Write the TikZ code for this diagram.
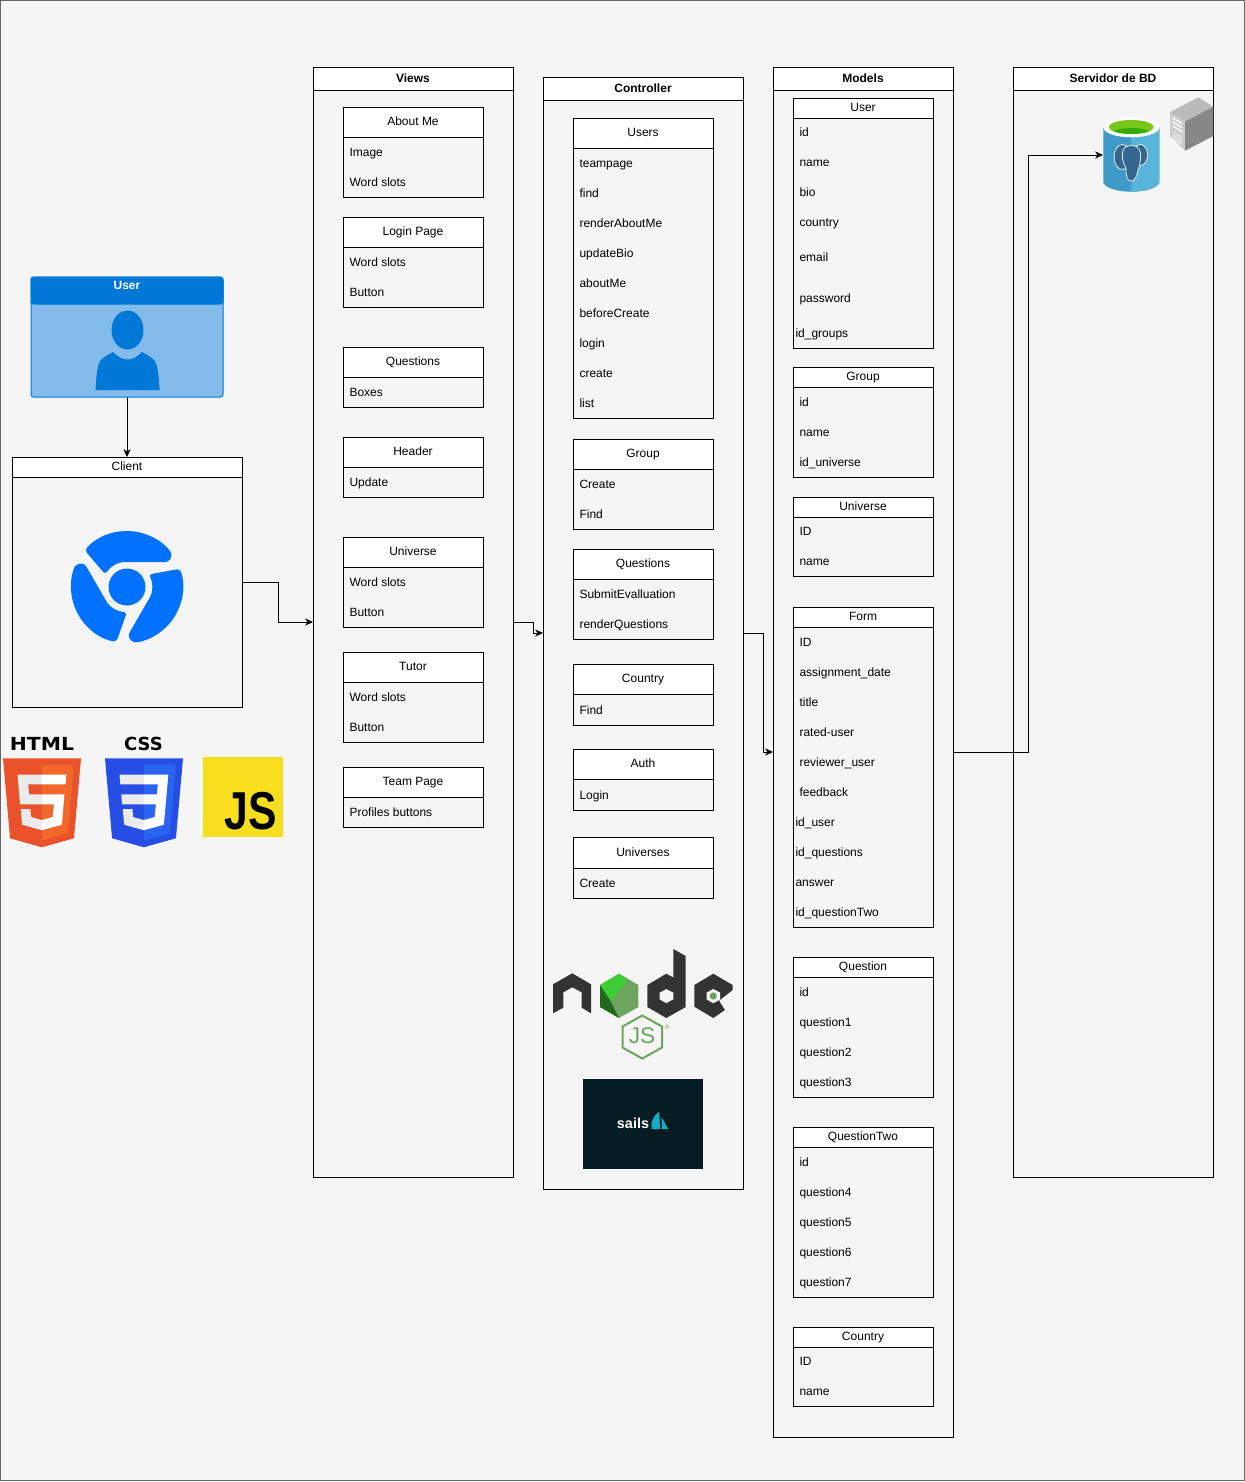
\documentclass[tikz,border=0pt]{standalone}
\usepackage{fontspec}
\setmainfont{Liberation Sans}
\usetikzlibrary{positioning,arrows.meta,calc}

\definecolor{sheet}{HTML}{F5F5F5}
\definecolor{msblue}{HTML}{0078D7}
\definecolor{msblue2}{HTML}{83BBEA}
\definecolor{chromeblue}{HTML}{0072FF}
\definecolor{htmldark}{HTML}{E9522A}
\definecolor{htmllight}{HTML}{F2672A}
\definecolor{cssdark}{HTML}{264DE4}
\definecolor{csslight}{HTML}{2965F1}
\definecolor{logogray}{HTML}{EBEBEB}
\definecolor{jsyellow}{HTML}{F7DF1E}
\definecolor{nodedark}{HTML}{333333}
\definecolor{nodegreen}{HTML}{6DA55F}
\definecolor{sailsdark}{HTML}{041C22}
\definecolor{sailsteal}{HTML}{14ACC2}
\definecolor{dbleft}{HTML}{3E9AC6}
\definecolor{dbright}{HTML}{59B4D9}
\definecolor{elephant}{HTML}{336791}

\begin{document}
\begin{tikzpicture}[
    x=0.75pt,
    y=-0.75pt,
    font=\fontsize{9}{11}\selectfont,
    line width=0.75pt,
    wd/.style={minimum width=#1*0.75pt},
    ht/.style={minimum height=#1*0.75pt},
    frame/.style={draw, anchor=north west, inner sep=0pt, outer sep=0pt},
    lane/.style={frame},
    lanehead/.style={frame, fill=white, font=\fontsize{9}{11}\selectfont\bfseries, text height=7.4pt, text depth=1.6pt},
    fieldbox/.style={frame, wd=140},
    boxhead/.style={frame, fill=white, wd=140, text height=7.4pt, text depth=1.6pt},
    field/.style={anchor=west, inner sep=0pt, text height=8pt, text depth=1.6pt},
    arrow/.style={-{Stealth[length=6pt,width=5.5pt]}}
]

% ============================================================
% FONDO
% ============================================================
\useasboundingbox (0,0) rectangle (1245,1482);
\fill[white] (0,0) rectangle (1245,1482);
\draw[draw=black!60, fill=sheet] (0.5,0.5) rectangle (1244.5,1480.5);

% ============================================================
% CLIENTE
% ============================================================
\node[frame, draw=msblue, fill=msblue2, rounded corners=2pt, wd=192, ht=120] (user) at (31,277) {};
\node[frame, draw=msblue, fill=msblue, rounded corners=2pt, wd=192, ht=27, text=white,
      font=\fontsize{9}{11}\selectfont\bfseries, text height=9pt, text depth=11pt] (userhead) at (31,277) {User};
\fill[msblue] (127.5,330) ellipse [x radius=16, y radius=19.5];
\fill[msblue] (95.5,390) .. controls (96.5,375) and (97,365) .. (101,360)
    .. controls (105,356) and (110,354) .. (113,352)
    .. controls (118,357) and (122,359.5) .. (127.5,359.5)
    .. controls (133,359.5) and (137,357) .. (142,352)
    .. controls (145,354) and (150,356) .. (154,360)
    .. controls (158,365) and (158.5,375) .. (159.7,390) -- cycle;

\node[lane, wd=230, ht=250] (client) at (12,457) {};
\node[frame, fill=white, wd=230, ht=20, text height=7.4pt, text depth=1.6pt] (clienthead) at (12,457) {Client};

% Chrome
\fill[chromeblue] (127,587) circle [radius=18.5];
\foreach \chromerot in {0,120,240}{
  \begin{scope}[shift={(127,587)}, rotate=\chromerot]
    \fill[chromeblue, rounded corners=2.5pt] (-139:56) arc [start angle=-139, end angle=-36, radius=56]
        -- (42,-25) -- (0,-25) arc [start angle=-90, end angle=-150, radius=25] -- cycle;
  \end{scope}
}

% HTML, CSS, JS
\node[font=\fontsize{13.5}{14}\selectfont\bfseries, xscale=1.13, inner sep=0pt] (htmllabel) at (42,744) {\fontspec{DejaVu Sans}HTML};
\node[font=\fontsize{13.5}{14}\selectfont\bfseries, inner sep=0pt] (csslabel) at (143.5,744) {\fontspec{DejaVu Sans}CSS};
\begin{scope}[shift={(-2.18,758.3)}, xscale=.1726, yscale=.1738]
  \fill[htmldark] (71,460) -- (30,0) -- (482,0) -- (441,460) -- (255,512) -- cycle;
  \fill[htmllight] (255,472) -- (405,431) -- (440,37) -- (255,37) -- cycle;
  \fill[logogray] (255,94) -- (114,94) -- (129,265) -- (255,265) -- (255,208) -- (181,208) -- (176,150) -- (255,150) -- cycle;
  \fill[logogray] (255,355) -- (193,338) -- (189,292) -- (133,292) -- (141,382) -- (255,414) -- cycle;
  \fill[white] (255,94) -- (255,150) -- (392,150) -- (397,94) -- cycle;
  \fill[white] (255,208) -- (255,265) -- (325,265) -- (318,338) -- (255,355) -- (255,414) -- (371,382) -- (386,208) -- cycle;
\end{scope}
\begin{scope}[shift={(99.82,758.3)}, xscale=.1726, yscale=.1738]
  \fill[cssdark] (71,460) -- (30,0) -- (482,0) -- (441,460) -- (255,512) -- cycle;
  \fill[csslight] (255,472) -- (405,431) -- (440,37) -- (255,37) -- cycle;
  \fill[logogray] (255,94) -- (114,94) -- (119,150) -- (255,150) -- cycle;
  \fill[logogray] (255,208) -- (124,208) -- (129,265) -- (255,265) -- cycle;
  \fill[logogray] (255,355) -- (193,338) -- (189,292) -- (133,292) -- (141,382) -- (255,414) -- cycle;
  \fill[white] (255,94) -- (397,94) -- (371,382) -- (255,414) -- (255,355) -- (318,338) -- (325,265)
      -- (255,265) -- (255,208) -- (331,208) -- (336,150) -- (255,150) -- cycle;
\end{scope}
\fill[jsyellow] (203,757) rectangle (283,837);
\node[font=\fontsize{40}{40}\selectfont\bfseries, xscale=.8, transform shape, inner sep=0pt] (jslabel) at (250.5,811) {JS};

% ============================================================
% VISTAS
% ============================================================
\node[lane, wd=200, ht=1110] (views) at (313,67) {};
\node[lanehead, wd=200, ht=23] (viewshead) at (313,67) {Views};

\node[fieldbox, ht=90] (aboutme) at (343,107) {};
\node[boxhead, ht=30] (aboutmehead) at (343,107) {About Me};
\node[field] (aboutmeimage) at (349,152) {Image};
\node[field] (aboutmeslots) at (349,182) {Word slots};

\node[fieldbox, ht=90] (loginpage) at (343,217) {};
\node[boxhead, ht=30] (loginpagehead) at (343,217) {Login Page};
\node[field] (loginslots) at (349,262) {Word slots};
\node[field] (loginbutton) at (349,292) {Button};

\node[fieldbox, ht=60] (questionsview) at (343,347) {};
\node[boxhead, ht=30] (questionsviewhead) at (343,347) {Questions};
\node[field] (questionsboxes) at (349,392) {Boxes};

\node[fieldbox, ht=60] (headerview) at (343,437) {};
\node[boxhead, ht=30] (headerviewhead) at (343,437) {Header};
\node[field] (headerupdate) at (349,482) {Update};

\node[fieldbox, ht=90] (universeview) at (343,537) {};
\node[boxhead, ht=30] (universeviewhead) at (343,537) {Universe};
\node[field] (universeslots) at (349,582) {Word slots};
\node[field] (universebutton) at (349,612) {Button};

\node[fieldbox, ht=90] (tutor) at (343,652) {};
\node[boxhead, ht=30] (tutorhead) at (343,652) {Tutor};
\node[field] (tutorslots) at (349,697) {Word slots};
\node[field] (tutorbutton) at (349,727) {Button};

\node[fieldbox, ht=60] (teampage) at (343,767) {};
\node[boxhead, ht=30] (teampagehead) at (343,767) {Team Page};
\node[field] (teamprofiles) at (349,812) {Profiles buttons};

% ============================================================
% CONTROLADOR
% ============================================================
\node[lane, wd=200, ht=1112] (controller) at (543,77) {};
\node[lanehead, wd=200, ht=23] (controllerhead) at (543,77) {Controller};

\node[fieldbox, ht=300] (usersctl) at (573,118) {};
\node[boxhead, ht=30] (usersctlhead) at (573,118) {Users};
\node[field] (ctlteampage) at (579,163) {teampage};
\node[field] (ctlfind) at (579,193) {find};
\node[field] (ctlrender) at (579,223) {renderAboutMe};
\node[field] (ctlupdate) at (579,253) {updateBio};
\node[field] (ctlabout) at (579,283) {aboutMe};
\node[field] (ctlbefore) at (579,313) {beforeCreate};
\node[field] (ctllogin) at (579,343) {login};
\node[field] (ctlcreate) at (579,373) {create};
\node[field] (ctllist) at (579,403) {list};

\node[fieldbox, ht=90] (groupctl) at (573,439) {};
\node[boxhead, ht=30] (groupctlhead) at (573,439) {Group};
\node[field] (groupcreate) at (579,484) {Create};
\node[field] (groupfind) at (579,514) {Find};

\node[fieldbox, ht=90] (questionsctl) at (573,549) {};
\node[boxhead, ht=30] (questionsctlhead) at (573,549) {Questions};
\node[field] (questionssubmit) at (579,594) {SubmitEvalluation};
\node[field] (questionsrender) at (579,624) {renderQuestions};

\node[fieldbox, ht=61] (countryctl) at (573,664) {};
\node[boxhead, ht=30] (countryctlhead) at (573,664) {Country};
\node[field] (countryfind) at (579,710) {Find};

\node[fieldbox, ht=61] (authctl) at (573,749) {};
\node[boxhead, ht=30] (authctlhead) at (573,749) {Auth};
\node[field] (authlogin) at (579,795) {Login};

\node[fieldbox, ht=61] (universesctl) at (573,837) {};
\node[boxhead, ht=31] (universesctlhead) at (573,837) {Universes};
\node[field] (universescreate) at (579,883) {Create};

% Node.js
\fill[nodedark] (572.3,973.3) -- (591,984.3) -- (591,1013.3) -- (581.7,1007.7) -- (581.7,992.3) -- (572.3,987.3)
    -- (563.3,992.3) -- (563.3,1007.7) -- (553,1013.3) -- (553,984.3) -- cycle;
\fill[nodegreen] (619,973.7) -- (638.3,985) -- (638.3,1007) -- (619,1018) -- (600,1007) -- (600,985) -- cycle;
\fill[green!45!nodegreen] (619,973.7) -- (600,985) -- (610,1002) -- (628,980) -- cycle;
\fill[green!30!black!70!nodegreen] (600,985) -- (600,1007) -- (619,1018) -- (610,1000) -- cycle;
\fill[nodedark, even odd rule] (673.3,949) -- (685.7,956) -- (685.7,1007) -- (666.3,1018) -- (647.3,1007) -- (647.3,985)
    -- (666.3,973.7) -- (673.3,977.5) -- cycle
    (666.3,989) -- (673.3,992.5) -- (673.3,999.5) -- (666.3,1003.3) -- (659.7,999.5) -- (659.7,992.5) -- cycle;
\fill[nodedark] (713.3,973.7) -- (732.7,985) -- (732.7,990) -- (719,1000.7) -- (725,1010) -- (713.3,1018)
    -- (694.3,1006.7) -- (694.3,985) -- cycle;
\fill[sheet] (713.3,989) -- (720,992.5) -- (720,999.5) -- (713.3,1003.3) -- (706.7,999.5) -- (706.7,992.5) -- cycle;
\fill[nodegreen] (713.3,996) circle [radius=3.6];
\draw[nodegreen, line width=1.5pt] (642.3,1015.5) -- (662,1026.5) -- (662,1047.5) -- (642.3,1058.5) -- (622.5,1047.5) -- (622.5,1026.5) -- cycle;
\node[text=nodegreen, font=\fontsize{17}{17}\selectfont, inner sep=0pt] (nodejslabel) at (642,1036) {JS};
\node[text=nodegreen, font=\fontsize{5}{5}\selectfont, inner sep=0pt] (nodereg) at (667.3,1026.7) {®};

% Sails
\fill[sailsdark] (583,1079) rectangle (703,1169);
\node[text=white, font=\fontsize{10.8}{11}\selectfont\bfseries, inner sep=0pt] (sailslabel) at (633,1123) {sails};
\fill[sailsteal] (651.7,1129) .. controls (650,1122) and (654,1115) .. (659.3,1111.7) -- (660,1129) -- cycle;
\fill[sailsteal] (661.7,1117.3) -- (668.3,1129) -- (661.7,1129) -- cycle;

% ============================================================
% MODELOS
% ============================================================
\node[lane, wd=180, ht=1370] (models) at (773,67) {};
\node[lanehead, wd=180, ht=23] (modelshead) at (773,67) {Models};

\node[fieldbox, ht=250] (usermodel) at (793,98) {};
\node[boxhead, ht=20] (usermodelhead) at (793,98) {User};
\node[field] (userid) at (799,132) {id};
\node[field] (username) at (799,162) {name};
\node[field] (userbio) at (799,192) {bio};
\node[field] (usercountry) at (799,222) {country};
\node[field] (useremail) at (799,257) {email};
\node[field] (userpassword) at (799,298) {password};
\node[field] (usergroups) at (795,333) {id\_groups};

\node[fieldbox, ht=110] (groupmodel) at (793,367) {};
\node[boxhead, ht=20] (groupmodelhead) at (793,367) {Group};
\node[field] (groupid) at (799,402) {id};
\node[field] (groupname) at (799,432) {name};
\node[field] (groupuniverse) at (799,462) {id\_universe};

\node[fieldbox, ht=79] (universemodel) at (793,497) {};
\node[boxhead, ht=20] (universemodelhead) at (793,497) {Universe};
\node[field] (universeid) at (799,531) {ID};
\node[field] (universename) at (799,561) {name};

\node[fieldbox, ht=320] (formmodel) at (793,607) {};
\node[boxhead, ht=20] (formmodelhead) at (793,607) {Form};
\node[field] (formid) at (799,642) {ID};
\node[field] (formdate) at (799,672) {assignment\_date};
\node[field] (formtitle) at (799,702) {title};
\node[field] (formrated) at (799,732) {rated-user};
\node[field] (formreviewer) at (799,762) {reviewer\_user};
\node[field] (formfeedback) at (799,792) {feedback};
\node[field] (formuser) at (795,822) {id\_user};
\node[field] (formquestions) at (795,852) {id\_questions};
\node[field] (formanswer) at (795,882) {answer};
\node[field] (formquestiontwo) at (795,912) {id\_questionTwo};

\node[fieldbox, ht=140] (questionmodel) at (793,957) {};
\node[boxhead, ht=20] (questionmodelhead) at (793,957) {Question};
\node[field] (questionid) at (799,992) {id};
\node[field] (questionone) at (799,1022) {question1};
\node[field] (questiontwo) at (799,1052) {question2};
\node[field] (questionthree) at (799,1082) {question3};

\node[fieldbox, ht=170] (qtwomodel) at (793,1127) {};
\node[boxhead, ht=20] (qtwomodelhead) at (793,1127) {QuestionTwo};
\node[field] (qtwoid) at (799,1162) {id};
\node[field] (qtwofour) at (799,1192) {question4};
\node[field] (qtwofive) at (799,1222) {question5};
\node[field] (qtwosix) at (799,1252) {question6};
\node[field] (qtwoseven) at (799,1282) {question7};

\node[fieldbox, ht=79] (countrymodel) at (793,1327) {};
\node[boxhead, ht=20] (countrymodelhead) at (793,1327) {Country};
\node[field] (countryid) at (799,1361) {ID};
\node[field] (countryname) at (799,1391) {name};

% ============================================================
% SERVIDOR DE BD
% ============================================================
\node[lane, wd=200, ht=1110] (server) at (1013,67) {};
\node[lanehead, wd=200, ht=23] (serverhead) at (1013,67) {Servidor de BD};

% maquina
\fill[black!27] (1198.3,97.3) -- (1170,112.3) -- (1185,121.7) -- (1213.3,106.7) -- cycle;
\fill[black!20] (1170,112.3) -- (1185,121.7) -- (1185,150.7) -- (1170,136) -- cycle;
\fill[black!47] (1185,121.7) -- (1213.3,106.7) -- (1213.3,136) -- (1185,150.7) -- cycle;
\draw[white, line width=1pt] (1172.5,118) -- (1182,123.5) (1172.5,122) -- (1182,127.5) (1172.5,126) -- (1182,131.5);
\draw[white, line width=.4pt] (1172.5,132) -- (1182,137.5) (1172.5,134.5) -- (1182,140) (1172.5,137) -- (1182,142.5) (1172.5,139) -- (1182,144.5);

% cilindro
\node[inner sep=0pt, outer sep=0pt, wd=57, ht=74] (db) at (1131.5,155) {};
\fill[dbleft] (1103.3,127.3) -- (1103.3,181.7) arc [start angle=180, end angle=0, x radius=28, y radius=10] -- (1159.3,127.3) -- cycle;
\fill[dbright] (1131.3,127.3) -- (1131.3,191.7) arc [start angle=90, end angle=0, x radius=28, y radius=10] -- (1159.3,127.3) -- cycle;
\fill[white] (1131.3,127.3) ellipse [x radius=28, y radius=10];
\fill[green!45!yellow!75!black!90] (1131.3,127) ellipse [x radius=22.5, y radius=7];
\begin{scope}
  \clip (1131.3,127) ellipse [x radius=22.5, y radius=7];
  \fill[green!60!black!80!yellow] (1131.3,134) ellipse [x radius=20, y radius=6];
\end{scope}
\begin{scope}[draw=white, fill=elephant, line width=.5pt]
  \filldraw (1122.5,157) ellipse [x radius=8.5, y radius=12.5];
  \filldraw (1140.5,155) ellipse [x radius=7, y radius=10.5];
  \filldraw (1124,148) .. controls (1130,144) and (1136,145) .. (1139,149) .. controls (1142,155) and (1140,165) .. (1138,170)
      .. controls (1137,176) and (1135,181) .. (1131,181) .. controls (1127,181) and (1126,176) .. (1126,168)
      .. controls (1122,162) and (1121,153) .. (1124,148) -- cycle;
\end{scope}

% ============================================================
% CONEXIONES
% ============================================================
\draw[arrow] (user.south) -- (client.north);
\draw[arrow] (client.east) -- ++(36,0) |- (views.west);
\draw[arrow] (views.east) -- ++(20,0) |- (controller.west);
\draw[arrow] (controller.east) -- ++(20,0) |- (models.west);
\draw[arrow] (models.east) -- ++(75,0) |- (db.west);

\end{tikzpicture}
\end{document}
